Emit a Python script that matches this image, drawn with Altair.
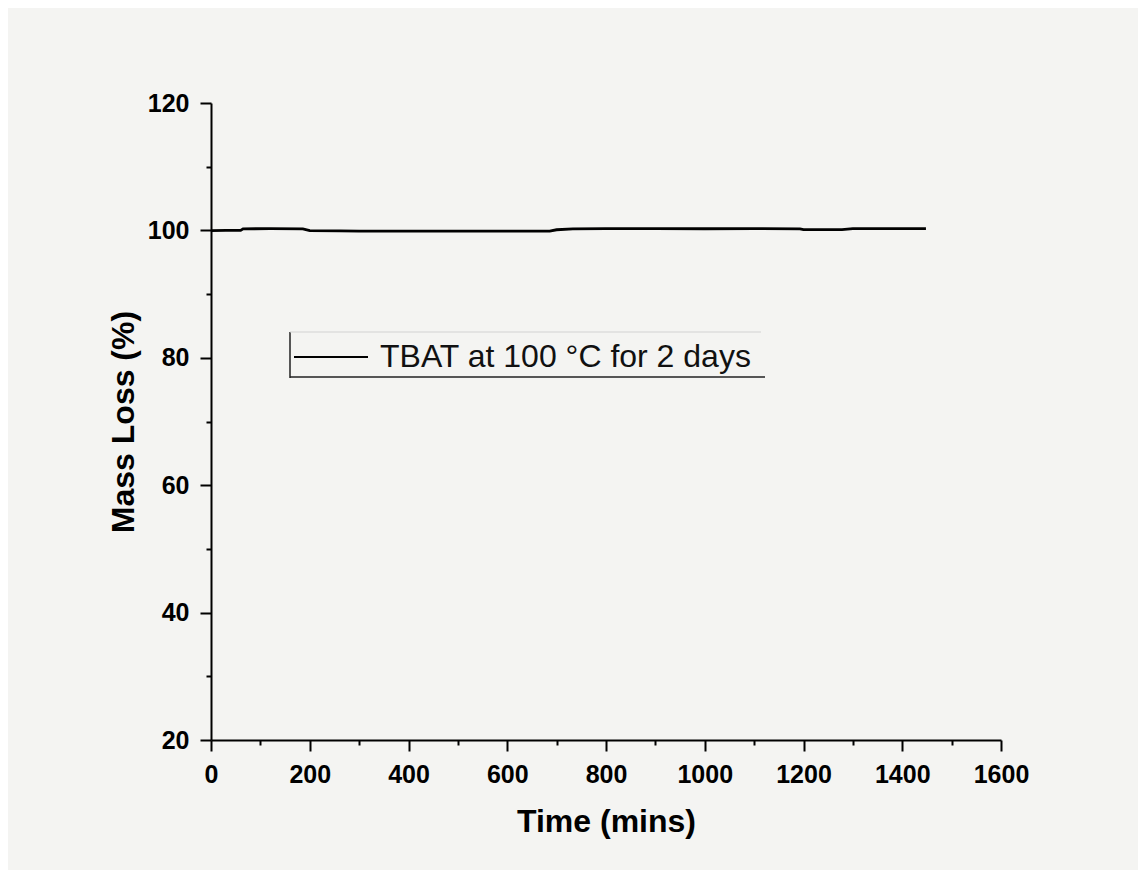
import altair as alt
import pandas as pd

# Data
time_min = [0, 30, 60, 65, 120, 186, 200, 261, 300, 400, 500, 600, 686, 700, 733,
            800, 900, 1000, 1100, 1193, 1200, 1278, 1300, 1400, 1448]
mass_pct = [99.95, 100.0, 100.0, 100.25, 100.27, 100.25, 99.98, 99.92, 99.9, 99.88,
            99.89, 99.9, 99.9, 100.1, 100.25, 100.27, 100.27, 100.26, 100.27, 100.25,
            100.12, 100.12, 100.27, 100.27, 100.28]
series_name = "TBAT at 100 \u00b0C for 2 days"

x_ticks = list(range(0, 1601, 100))
y_ticks = list(range(20, 121, 10))

df = pd.DataFrame({"time": time_min, "mass": mass_pct, "series": series_name})

FONT = "Liberation Sans"
W, H = 790, 637

line = alt.Chart(df).mark_line(strokeWidth=2.8, color="black").encode(
    x=alt.X("time:Q",
            scale=alt.Scale(domain=[0, 1600], nice=False, zero=False),
            axis=alt.Axis(
                values=x_ticks,
                format="d",
                title="Time (mins)",
                labelExpr="datum.value % 200 === 0 ? datum.label : ''",
                tickSize={"condition": {"test": "datum.value % 200 === 0", "value": 11}, "value": 5},
                labelFlush=False,
                labelPadding=11,
                titlePadding=19,
            )),
    y=alt.Y("mass:Q",
            scale=alt.Scale(domain=[20, 120], nice=False, zero=False),
            axis=alt.Axis(
                values=y_ticks,
                format="d",
                title="Mass Loss (%)",
                labelExpr="datum.value % 20 === 0 ? datum.label : ''",
                tickSize={"condition": {"test": "datum.value % 20 === 0", "value": 11}, "value": 5},
                labelFlush=False,
                labelPadding=11,
                titlePadding=7,
            )),
    color=alt.Color("series:N",
                    scale=alt.Scale(domain=[series_name], range=["black"]),
                    legend=alt.Legend(
                        title=None, orient="none", legendX=82, legendY=216,
                        symbolType="stroke", symbolSize=5476, symbolStrokeWidth=2,
                        symbolStrokeColor="black",
                        labelFontSize=32, labelFont=FONT, labelColor="#111",
                        labelOffset=11, labelLimit=1000, padding=0,
                    )),
)

box = pd.DataFrame({"a": [0]})
left_edge = alt.Chart(box).mark_rule(color="#222", strokeWidth=1.5).encode(
    x=alt.value(79), y=alt.value(229), y2=alt.value(275))
bottom_edge = alt.Chart(box).mark_rule(color="#222", strokeWidth=1.5).encode(
    x=alt.value(79), x2=alt.value(554), y=alt.value(274))
top_edge = alt.Chart(box).mark_rule(color="#d2d2d2", strokeWidth=1).encode(
    x=alt.value(79), x2=alt.value(550), y=alt.value(229))

chart = alt.layer(line, left_edge, bottom_edge, top_edge).properties(
    width=W, height=H,
    autosize=alt.AutoSizeParams(type="none"),
    padding={"left": 203, "top": 95, "right": 137, "bottom": 130},
    background="#f4f4f2",
).configure_view(stroke=None).configure_axis(
    domainColor="black", domainWidth=2, tickColor="black", tickWidth=2,
    grid=False, labelFont=FONT, labelFontSize=25, labelFontWeight="bold",
    labelColor="black", titleFont=FONT, titleFontWeight="bold", titleColor="black",
).configure_axisX(titleFontSize=32).configure_axisY(titleFontSize=32)

chart.save("out.html", embed_options={"renderer": "svg", "actions": False})
